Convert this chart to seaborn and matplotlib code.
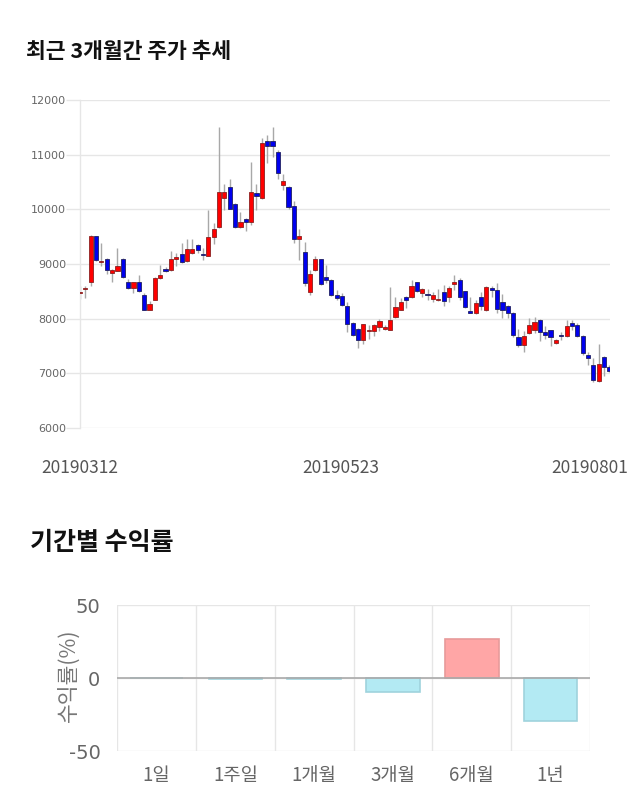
import numpy as np
import pandas as pd
import matplotlib
matplotlib.use("Agg")
import matplotlib.pyplot as plt
import seaborn as sns

sns.set_theme(style="white")
plt.rcParams['font.family'] = ['Noto Sans CJK KR', 'DejaVu Sans']

# ---------------- data ----------------
opens = [8470, 8540, 8680, 9515, 9040, 9095, 8840, 8880, 9095, 8680,
         8570, 8665, 8440, 8165, 8345, 8740, 8910, 8895, 9095, 9185,
         9050, 9200, 9350, 9185, 9155, 9500, 9670, 10200, 10400, 10105,
         9685, 9825, 9765, 10300, 10200, 11250, 11250, 11055, 10450, 10410,
         10065, 9450, 9215, 8490, 8890, 9095, 8760, 8710, 8430, 8420,
         8235, 7915, 7815, 7615, 7775, 7775, 7840, 7805, 7800, 8035,
         8165, 8395, 8395, 8665, 8470, 8455, 8360, 8335, 8485, 8395,
         8630, 8710, 8500, 8145, 8105, 8395, 8150, 8555, 8520, 8310,
         8235, 8110, 7665, 7525, 7730, 7800, 7980, 7765, 7790, 7550,
         7705, 7675, 7920, 7890, 7690, 7330, 7160, 6855, 7290, 7115]
closes = [8480, 8555, 9520, 9065, 9045, 8890, 8890, 8970, 8755, 8565,
          8665, 8505, 8165, 8275, 8740, 8790, 8875, 9095, 9120, 9035,
          9270, 9270, 9260, 9160, 9500, 9645, 10310, 10310, 10010, 9675,
          9765, 9765, 10310, 10250, 11210, 11150, 11150, 10660, 10510, 10050,
          9450, 9515, 8650, 8820, 9095, 8630, 8700, 8425, 8380, 8255,
          7900, 7705, 7615, 7900, 7800, 7885, 7955, 7855, 7980, 8210,
          8310, 8345, 8600, 8500, 8545, 8430, 8435, 8365, 8315, 8570,
          8665, 8405, 8205, 8110, 8285, 8235, 8580, 8530, 8180, 8165,
          8105, 7700, 7525, 7690, 7890, 7940, 7755, 7710, 7660, 7610,
          7685, 7860, 7860, 7685, 7370, 7275, 6870, 7175, 7110, 7040]
highs = [8590, 8590, 9530, 9520, 9380, 9110, 8900, 9300, 9110, 8720,
         8680, 8790, 8470, 8320, 8760, 8980, 8940, 9240, 9200, 9380,
         9460, 9460, 9360, 9300, 9980, 9750, 11500, 10460, 10550, 10110,
         9960, 9850, 10860, 10460, 11300, 11360, 11500, 11080, 10650, 10420,
         10150, 9640, 9400, 8890, 9140, 9100, 8980, 8730, 8530, 8470,
         8300, 7940, 7830, 7910, 7890, 7900, 7990, 7880, 8580, 8400,
         8380, 8420, 8700, 8680, 8560, 8540, 8480, 8540, 8620, 8590,
         8800, 8740, 8510, 8400, 8340, 8480, 8600, 8600, 8650, 8460,
         8250, 8120, 7810, 7770, 8010, 8030, 7990, 7860, 7800, 7620,
         7750, 7980, 7980, 7920, 7700, 7390, 7280, 7540, 7320, 7150]
lows = [8360, 8380, 8590, 9060, 8970, 8815, 8680, 8870, 8750, 8550,
        8470, 8480, 8160, 8160, 8340, 8720, 8850, 8880, 8970, 9020,
        9040, 9180, 9200, 9080, 9150, 9370, 9660, 9990, 10000, 9650,
        9655, 9610, 9715, 9990, 10190, 10855, 10960, 10550, 10355, 10000,
        9380, 9065, 8590, 8430, 8870, 8610, 8650, 8410, 8340, 8240,
        7750, 7690, 7460, 7540, 7630, 7680, 7780, 7790, 7790, 8020,
        8150, 8190, 8380, 8490, 8400, 8340, 8300, 8320, 8230, 8310,
        8530, 8350, 8190, 8100, 8090, 8150, 8140, 8395, 8110, 8020,
        8020, 7665, 7480, 7390, 7720, 7740, 7600, 7630, 7500, 7540,
        7610, 7670, 7800, 7670, 7340, 7160, 6850, 6850, 6960, 7020]
date_labels = ["20190312", "20190523", "20190801"]
date_label_idx = [0, 48.7, 95.4]
price_ticks = [6000, 7000, 8000, 9000, 10000, 11000, 12000]

periods = ["1일", "1주일", "1개월", "3개월", "6개월", "1년"]
returns = [0.0, -0.7, -0.5, -9.8, 26.8, -29.1]
return_ticks = [-50, 0, 50]

GRID = "#e6e6e6"
TXT = "#666666"

fig = plt.figure(figsize=(6.4, 8.1), dpi=100)

# ---------------- candlestick chart ----------------
ax1 = fig.add_axes([0.125, 0.4716, 0.828, 0.4049])
df = pd.DataFrame({"open": opens, "close": closes, "high": highs, "low": lows})
df["idx"] = np.arange(len(df))
up = df["close"] >= df["open"]
ax1.vlines(df["idx"], df["low"], df["high"], color="#a8a8a8", lw=1, zorder=2)
body_bottom = np.minimum(df["open"], df["close"])
body_h = np.maximum((df["close"] - df["open"]).abs(), 18)
colors = np.where(up, "#ff0000", "#0000ee")
edges = np.where(up, "#8a2020", "#202060")
ax1.bar(df["idx"], body_h, bottom=body_bottom, width=0.78, color=colors,
        edgecolor=edges, linewidth=0.6, zorder=3)

ax1.set_xlim(0, 99.1)
ax1.set_ylim(price_ticks[0], price_ticks[-1])
ax1.set_yticks(price_ticks)
ax1.set_yticklabels([str(t) for t in price_ticks], fontsize=8, color=TXT,
                    family=['DejaVu Sans'])
ax1.set_xticks(date_label_idx)
ax1.set_xticklabels(date_labels, fontsize=12.5, color="#555555")
ax1.tick_params(axis="y", length=10, width=1, color=GRID, pad=0, left=True)
ax1.tick_params(axis="x", length=0, pad=22)
ax1.grid(axis="y", color=GRID, lw=1)
ax1.set_axisbelow(True)
for s in ["top", "right", "bottom"]:
    ax1.spines[s].set_visible(False)
ax1.spines["left"].set_color(GRID)
ax1.spines["left"].set_linewidth(1)

fig.text(0.040, 0.936, "최근 3개월간 주가 추세", fontsize=15.5, fontweight="bold",
         color="#111111", va="center", ha="left")

# ---------------- returns bar chart ----------------
ax2 = fig.add_axes([0.183, 0.0728, 0.739, 0.1802])
bar_df = pd.DataFrame({"period": periods, "ret": returns})
pal = {p: ("#ffa6a6" if r > 0 else "#b3eaf3") for p, r in zip(periods, returns)}
sns.barplot(data=bar_df, x="period", y="ret", hue="period", palette=pal,
            legend=False, width=0.68, ax=ax2, saturation=1)
for patch, r in zip(ax2.patches, returns):
    patch.set_edgecolor("#e89a9a" if r > 0 else "#9fd3dd")
    patch.set_linewidth(1.2)
ax2.set_xlim(-0.5, len(periods) - 0.5)
ax2.set_ylim(-50, 50)
ax2.set_yticks(return_ticks)
ax2.set_yticklabels([str(t) for t in return_ticks], fontsize=14, color=TXT,
                    family=['DejaVu Sans'])
ax2.set_xticks(range(len(periods)))
ax2.set_xticklabels(periods, fontsize=13.5, color=TXT)
ax2.set_xticks(np.arange(-0.5, len(periods)), minor=True)
ax2.tick_params(axis="x", which="major", length=0, pad=10)
ax2.tick_params(axis="x", which="minor", length=8, color=GRID, width=1)
ax2.tick_params(axis="y", length=0, pad=12)
ax2.grid(axis="x", which="minor", color=GRID, lw=1)
ax2.grid(axis="y", color=GRID, lw=1)
ax2.axhline(0, color="#aaaaaa", lw=1.2, zorder=1)
ax2.set_axisbelow(True)
for s in ["top", "right", "left", "bottom"]:
    ax2.spines[s].set_visible(False)
ax2.set_xlabel("")
ax2.set_ylabel("수익률(%)", fontsize=15.5, color="#777777")
ax2.yaxis.set_label_coords(-0.078, 0.52)

fig.text(0.047, 0.330, "기간별 수익률", fontsize=18, fontweight="bold",
         color="#111111", va="center", ha="left")

fig.savefig("out.png", dpi=100)
